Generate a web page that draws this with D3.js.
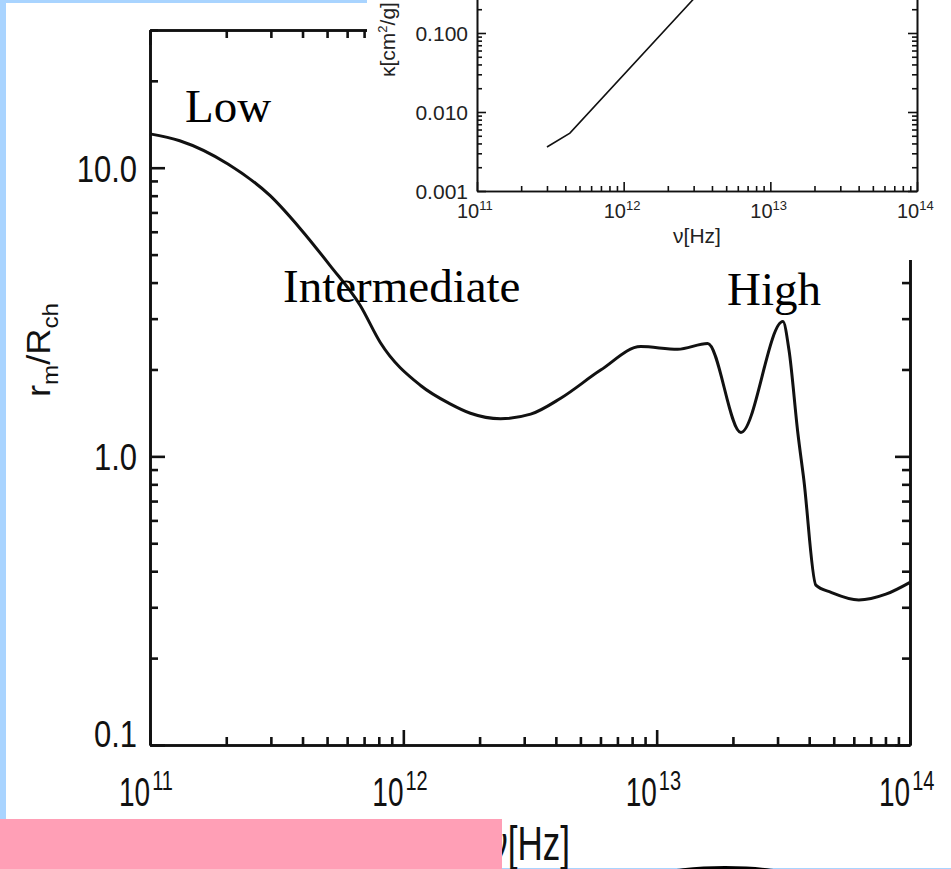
<!DOCTYPE html>
<html>
<head>
<meta charset="utf-8">
<script src="https://cdn.jsdelivr.net/npm/d3@7"></script>
<style>
  html, body { margin: 0; padding: 0; background: #a9d4ff; }
  svg { display: block; }
</style>
</head>
<body>
<div id="chart"></div>
<script>
// main curve: r_m / R_ch against frequency
const freqMain = [1e11, 1.31e11, 2.03e11, 2.98e11, 3.92e11, 5.14e11, 6.76e11, 8.11e11,
  1.17e12, 1.53e12, 1.84e12, 2.42e12, 3.18e12, 4.18e12, 6.01e12, 8.65e12, 1.21e13, 1.59e13,
  2.15e13, 3.15e13, 3.33e13, 3.61e13, 3.81e13, 4.25e13, 4.88e13, 6.28e13, 8.03e13, 1e14];
const ratioMain = [13.1, 12.4, 10.3, 8.0, 6.15, 4.58, 3.33, 2.48,
  1.76, 1.52, 1.41, 1.35, 1.40, 1.59, 1.99, 2.40, 2.35, 2.46,
  1.21, 2.93, 2.33, 1.20, 0.83, 0.358, 0.338, 0.318, 0.333, 0.366];

// inset: opacity kappa against frequency
const freqInset = [3.0e11, 4.3e11, 3.0e12];
const kappaInset = [0.0036, 0.0054, 0.27];

const mainYLabels = ["0.1", "1.0", "10.0"];
const mainYValues = [0.1, 1, 10];
const insetYLabels = ["0.001", "0.010", "0.100"];
const insetYValues = [0.001, 0.01, 0.1];
const decades = [11, 12, 13, 14];
const regions = ["Low", "Intermediate", "High"];

let width = 951, height = 869;

const svg = d3.select("#chart")
  .append("svg")
  .attr("width", width)
  .attr("height", height);

// backdrop panels
svg.append("rect").attr("x", 0).attr("y", 0).attr("width", width).attr("height", height).attr("fill", "#a9d4ff");
svg.append("rect").attr("x", 6).attr("y", 3).attr("width", width - 6).attr("height", 865).attr("fill", "#fff");

const sans = "'Liberation Sans', Arial, Helvetica, sans-serif";
const serif = "'Liberation Serif', 'Times New Roman', serif";

// ---------- main plot ----------
let x = d3.scaleLog().domain([1e11, 1e14]).range([150, 910]);
let y = d3.scaleLog().domain([0.1, 30]).range([745, 30]);

function isMajor(v) {
  return Math.abs(Math.log10(v) - Math.round(Math.log10(v))) < 1e-6;
}

function frame(g, xs, ys, minorLen, majorLen, strokeW, withTop) {
  const [x0, x1] = xs.range();
  const [y0, y1] = ys.range();
  const axes = [
    [d3.axisBottom(xs), `translate(0,${y0})`],
    [d3.axisLeft(ys), `translate(${x0},0)`],
    [d3.axisRight(ys), `translate(${x1},0)`]
  ];
  if (withTop) axes.push([d3.axisTop(xs), `translate(0,${y1})`]);
  axes.forEach(([ax, tr]) => {
    const all = ax.scale().ticks();
    [[all.filter(v => !isMajor(v)), minorLen], [all.filter(isMajor), majorLen]].forEach(([vals, len]) => {
      const a = g.append("g")
        .attr("transform", tr)
        .call(ax.tickValues(vals).tickSize(-len).tickSizeOuter(0).tickFormat(""));
      a.select(".domain").attr("stroke", "#111").attr("stroke-width", strokeW);
      a.selectAll(".tick line").attr("stroke", "#111").attr("stroke-width", strokeW);
    });
  });
}

const gMain = svg.append("g");
frame(gMain, x, y, 8, 15, 2.6, true);

let line = d3.line()
  .x(d => x(d[0]))
  .y(d => y(d[1]))
  .curve(d3.curveMonotoneX);

gMain.append("path")
  .datum(freqMain.map((f, i) => [f, ratioMain[i]]))
  .attr("fill", "none")
  .attr("stroke", "#111")
  .attr("stroke-width", 3)
  .attr("stroke-linejoin", "round")
  .attr("d", line);

// y tick labels (slightly tall glyphs, like the scan)
gMain.selectAll(".ylab")
  .data(mainYValues)
  .join("text")
  .attr("transform", d => `translate(137,${y(d) + (d === 0.1 ? 2 : 14)}) scale(1,1.2)`)
  .attr("text-anchor", "end")
  .attr("font-family", sans)
  .attr("font-size", 31)
  .attr("fill", "#111")
  .text((d, i) => mainYLabels[i]);

// x tick labels 10^n
decades.forEach(n => {
  const t = gMain.append("text")
    .attr("transform", `translate(${x(Math.pow(10, n)) - 31},806) scale(1,1.42)`)
    .attr("font-family", sans)
    .attr("font-size", 28)
    .attr("fill", "#111");
  t.append("tspan").text("10");
  t.append("tspan").attr("font-size", 20).attr("dx", 2).attr("dy", -11).text(n);
});

// y title
const yt = gMain.append("text")
  .attr("transform", "translate(50,350) rotate(-90) scale(1.1,1)")
  .attr("text-anchor", "middle")
  .attr("font-family", sans)
  .attr("font-size", 33)
  .attr("fill", "#111");
yt.append("tspan").text("r");
yt.append("tspan").attr("font-size", 22).attr("dy", 8).text("m");
yt.append("tspan").attr("dy", -8).text("/R");
yt.append("tspan").attr("font-size", 22).attr("dy", 8).text("ch");

// x title
gMain.append("text")
  .attr("transform", "translate(570,860) scale(1,1.35)")
  .attr("text-anchor", "end")
  .attr("font-family", sans)
  .attr("font-size", 35)
  .attr("fill", "#111")
  .text("ν[Hz]");

// region annotations
const regionPos = [[185, 122], [283, 302], [727, 305]];
gMain.selectAll(".region")
  .data(regions)
  .join("text")
  .attr("x", (d, i) => regionPos[i][0])
  .attr("y", (d, i) => regionPos[i][1])
  .attr("font-family", serif)
  .attr("font-size", 47)
  .attr("fill", "#000")
  .text(d => d);

// ---------- inset ----------
svg.append("rect").attr("x", 367).attr("y", 0).attr("width", width - 367).attr("height", 260).attr("fill", "#fff");

let xi = d3.scaleLog().domain([1e11, 1e14]).range([477, 917]);
let yi = d3.scaleLog().domain([0.001, 10]).range([191, -125]);

const gIn = svg.append("g");
frame(gIn, xi, yi, 5, 9, 1.6, false);

gIn.append("path")
  .datum(freqInset.map((f, i) => [f, kappaInset[i]]))
  .attr("fill", "none")
  .attr("stroke", "#111")
  .attr("stroke-width", 1.6)
  .attr("d", d3.line().x(d => xi(d[0])).y(d => yi(d[1])));

gIn.selectAll(".iylab")
  .data(insetYValues)
  .join("text")
  .attr("x", 468)
  .attr("y", d => yi(d) + 8)
  .attr("text-anchor", "end")
  .attr("font-family", sans)
  .attr("font-size", 21)
  .attr("fill", "#222")
  .text((d, i) => insetYLabels[i]);

decades.forEach(n => {
  const t = gIn.append("text")
    .attr("x", xi(Math.pow(10, n)) - 20)
    .attr("y", 218)
    .attr("font-family", sans)
    .attr("font-size", 20)
    .attr("fill", "#222");
  t.append("tspan").text("10");
  t.append("tspan").attr("font-size", 13).attr("dy", -8).text(n);
});

const kt = gIn.append("text")
  .attr("transform", "translate(395,77) rotate(-90)")
  .attr("font-family", sans)
  .attr("font-size", 21)
  .attr("fill", "#222");
kt.append("tspan").text("κ[cm");
kt.append("tspan").attr("font-size", 13).attr("dy", -8).text("2");
kt.append("tspan").attr("dy", 8).text("/g]");

gIn.append("text")
  .attr("x", 697)
  .attr("y", 243)
  .attr("text-anchor", "middle")
  .attr("font-family", sans)
  .attr("font-size", 21)
  .attr("fill", "#222")
  .text("ν[Hz]");

// ---------- overlays at the bottom ----------
svg.append("rect").attr("x", 0).attr("y", 819).attr("width", 502).attr("height", 50).attr("fill", "#ff9fb6");
svg.append("ellipse").attr("cx", 725).attr("cy", 895).attr("rx", 110).attr("ry", 29).attr("fill", "#000");
</script>
</body>
</html>
